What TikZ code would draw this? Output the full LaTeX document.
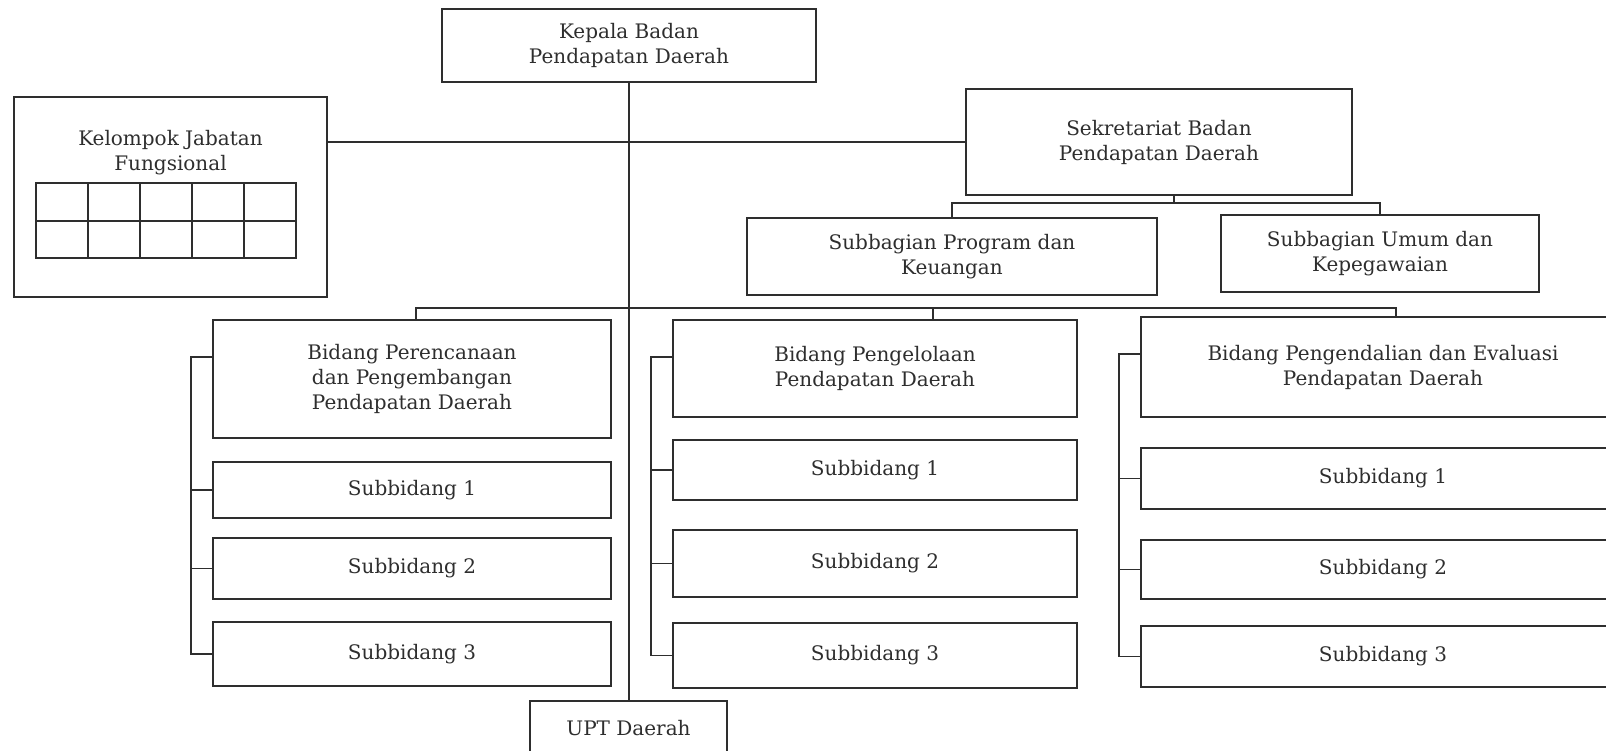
\documentclass[tikz,border=0pt]{standalone}
\usepackage{fontspec}
\setmainfont{DejaVu Serif}
\usetikzlibrary{calc}
\definecolor{inkgray}{gray}{0.18}

\begin{document}
\begin{tikzpicture}[x=0.5pt,y=-0.5pt,
  box/.style={draw=inkgray,line width=1pt,inner sep=0pt,align=center,
    text=inkgray,font=\fontsize{10}{12.5}\selectfont},
  link/.style={draw=inkgray,line width=0.6pt}]
  \useasboundingbox (0,0) rectangle (1606,750);
  \clip (0,0) rectangle (1606,750);
  % top part
  \node[box,minimum width=187pt,minimum height=36.5pt] (kepala) at (629,45.5) {Kepala Badan\\Pendapatan Daerah};
  \node[box,minimum width=156.5pt,minimum height=100pt] (kelompok) at (170.5,197) {};
  \node[box,draw=none] (kelompoktext) at (170.5,152.5) {Kelompok Jabatan\\Fungsional};
  \draw[inkgray,line width=0.8pt] (36,183) rectangle (296,258);
  \draw[inkgray,line width=0.8pt] (36,221) -- (296,221);
  \foreach \x in {88,140,192,244} \draw[inkgray,line width=0.8pt] (\x,183) -- (\x,258);
  \node[box,minimum width=193pt,minimum height=53pt] (sekr) at (1159,142) {Sekretariat Badan\\Pendapatan Daerah};
  \node[box,minimum width=205pt,minimum height=38.5pt] (sbprog) at (952,256.5) {Subbagian Program dan\\Keuangan};
  \node[box,minimum width=159pt,minimum height=38.5pt] (sbumum) at (1380,253.5) {Subbagian Umum dan\\Kepegawaian};
  % bidang columns
  \node[box,minimum width=199pt,minimum height=59pt] (bid1) at (412,379) {Bidang Perencanaan\\dan Pengembangan\\Pendapatan Daerah};
  \node[box,minimum width=199pt,minimum height=28pt] (s11) at (412,490) {Subbidang 1};
  \node[box,minimum width=199pt,minimum height=30.5pt] (s12) at (412,568.5) {Subbidang 2};
  \node[box,minimum width=199pt,minimum height=32pt] (s13) at (412,654) {Subbidang 3};
  \node[box,minimum width=202pt,minimum height=48.5pt] (bid2) at (875,368.5) {Bidang Pengelolaan\\Pendapatan Daerah};
  \node[box,minimum width=202pt,minimum height=30pt] (s21) at (875,470) {Subbidang 1};
  \node[box,minimum width=202pt,minimum height=33.5pt] (s22) at (875,563.5) {Subbidang 2};
  \node[box,minimum width=202pt,minimum height=32.5pt] (s23) at (875,655.5) {Subbidang 3};
  \node[box,minimum width=242pt,minimum height=50pt] (bid3) at (1383,367) {Bidang Pengendalian dan Evaluasi\\Pendapatan Daerah};
  \node[box,minimum width=242pt,minimum height=30.5pt] (s31) at (1383,478.5) {Subbidang 1};
  \node[box,minimum width=242pt,minimum height=29.5pt] (s32) at (1383,569.5) {Subbidang 2};
  \node[box,minimum width=242pt,minimum height=30.5pt] (s33) at (1383,656.5) {Subbidang 3};
  \node[box,minimum width=98.5pt,minimum height=27pt] (upt) at (628.5,728) {UPT Daerah};
  % connectors
  \coordinate (sbus) at (1174,203);
  \coordinate (d1) at (416,308);
  \coordinate (d2) at (933,308);
  \coordinate (d3) at (1396,308);
  \draw[link] (kepala.south) -- (kepala.south |- upt.north);
  \draw[link] (kelompok.east |- sekr.west) -- (sekr.west);
  \draw[link] (sekr.south -| sbus) -- (sbus);
  \draw[link] (sbprog.north) |- (sbus) -| (sbumum.north);
  \draw[link] (d1 |- bid1.north) -- (d1) -- (d3) -- (d3 |- bid3.north);
  \draw[link] (d2) -- (d2 |- bid2.north);
  \foreach \c in {1,2,3} {
    \draw[link] ($(bid\c.north west)+(0,38)$) -- ++(-21,0) |- (s\c3.west);
    \foreach \r in {1,2} \draw[link] (s\c\r.west) -- ++(-21,0);
  }
\end{tikzpicture}
\end{document}
